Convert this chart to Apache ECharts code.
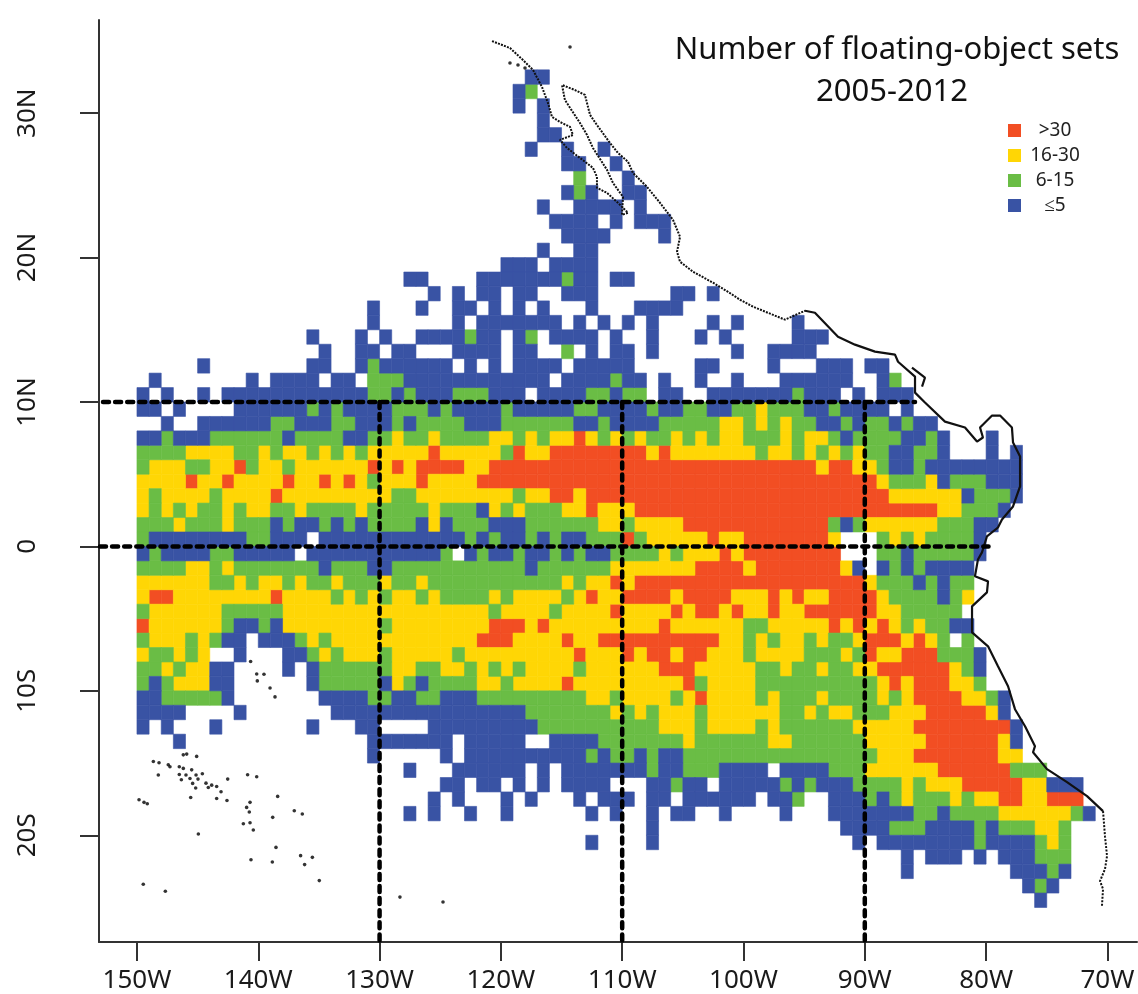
<!DOCTYPE html>
<html><head><meta charset="utf-8">
<style>html,body{margin:0;padding:0;background:#fff}#c{width:1138px;height:994px}</style>
<script src="https://cdn.jsdelivr.net/npm/echarts@6/dist/echarts.min.js"></script>
</head><body><div id="c"></div>
<script>
const titleLines = ["Number of floating-object sets", "2005-2012"];
const binNames = [">30", "16-30", "6-15", "≤5"];
const binCodes = ["r", "y", "g", "b"];
const binColors = ["#F24E23", "#FFD605", "#6ABD45", "#3953A4"];
const lonTicks = [-150,-140,-130,-120,-110,-100,-90,-80,-70];
const lonLabels = ["150W","140W","130W","120W","110W","100W","90W","80W","70W"];
const latTicks = [-20,-10,0,10,20,30];
const latLabels = ["20S","10S","0","10N","20N","30N"];
const firstLon = -150;
// one entry per 1-degree latitude band: north edge of the band, then runs of 1-degree cells
// (letter = class, numbers = cell index counted eastward from 150W)
const bandNorth = [33,32,31,30,29,28,27,26,25,24,23,22,21,20,19,18,17,16,15,14,13,12,11,10,9,8,7,6,5,4,3,2,1,0,-1,-2,-3,-4,-5,-6,-7,-8,-9,-10,-11,-12,-13,-14,-15,-16,-17,-18,-19,-20,-21,-22,-23,-24];
const bandRuns = [
"b32-33","b31 g32","b31 b33","b33","b33-34","b32 b35 b38","b35-36 b39","g36 b40","b35 g36 b37 b40-41","b33 b36-39 b41",
"b34-37 b39 b41-43","b35-38 b43","b33 b36-37","b30-32 b34-37","b22-23 b28-34 g35 b36-37 b39-40",
"b24 b26 b28-29 b31-32 b35-37 b44-45 b47",
"b19 b23 b26-27 b29 b31 b33 b37 b41-44",
"b19 b26 b28-34 b36 b38 b40 b42 b47 b49 b54",
"b14 b18 b20 b23-26 g27 b28-29 b31 g32 b34-37 b39 b42 b46 b48 b54-56",
"b15 b18-19 b21-22 b26-29 b31-32 g35 b37 b39-40 b42 b49 b52-55",
"b5 b14-15 b18 g19 b20-25 b27 b29 b31-34 b36-40 b46-47 b52 b56-58 b60-61",
"b1 b9 b11-14 b16-17 g19-21 b22-33 b35-38 g39 b40-41 b43 b46 b49 b53-58 b61 g62",
"b0 b2 b5 b7-18 g19-20 b21 g22 b23-25 g26-28 b29-31 b33-36 g37-38 b39 g40-41 b43-44 b47-53 g54 b55-57 b59 b61-63",
"b0-1 b3 b8-13 g14 b15 g16 b17-20 g21-23 b24 g25 b26-29 g30 b31-35 g36-37 b38-41 g42 b43-44 g45-46 b47-48 g49-50 y51 g52-54 b55-56 g57 b58-61 b63",
"b2 b5-10 g11-12 b13-15 g16-17 b18-20 g21 b22 g23-26 b27-29 g30-35 b36-37 g38 b39-42 g43-47 y48-49 g50 y51 g52 y53 g54-55 b56-57 g58 b59 g60-61 b62 g63 b64-65",
"b0-1 g2 b3-5 g6-11 b12 g13-16 b17-18 g19-20 y21 g22-23 y24 g25-28 y29-30 g31 y32 g33 y34-35 r36 y37 g38 y39 g40 y41 g42-43 y44 g45 y46 g47 y48-49 g50-52 y53 g54 y55-56 g57 b58 g59-62 b63-64 g65 b66 b70",
"g0-3 y4-7 g8-9 y10 g11 y12-13 g14 y15 g16 y17 g18 y19-23 r24 y25-29 g30 r31 y32-33 r34-41 y42 r43 y44-50 g51 y52-53 g54 y55 g56 y57 g58 y59 g60-61 b62-63 g64-65 b66 b70 b72",
"g0 y1-3 g4-5 y6-7 r8 g9 y10-11 g12 y13-18 r19 y20 r21 y22 r23-26 y27-28 r29-55 y56 r57-58 y59-60 g61 b62-63 g64 b65-72",
"y0-3 r4 y5-6 r7 y8-11 r12 y13-14 r15 y16 r17 y18 g19 y20-22 r23 y24-27 r28-60 y61 g62-64 y65 b66 g67-69 b70-72",
"y0 g1 y2-5 g6 y7-10 r11 y12-20 g21-22 y23-30 g31 y32-33 r34-35 y36 r37-61 y62-67 b68 g69-71 b72",
"y0 g1 y2 g3 y4 g5-6 y7 g8 y9-10 g11-12 y13 g14-17 y18 g19-23 y24 g25-27 b28 y29 g30 y31 g32-34 y35-36 r37 y38-40 r41-65 y66-67 g68-70 b71",
"g0-2 y3 g4-6 y7 g8-10 b11 g12 b13-14 g15 b16 g17 b18 g19-22 b23 y24 b25 g26-28 b29-31 g32-37 y38-39 g40 y41-44 r45-56 g57 b58 g59 y60-65 g66-68 b69-70",
"g0 b1-8 g9-10 b11-13 b15-26 g27 b28 g29 b30-31 g32 b33 g34 b35-36 g37-39 r40 g41 y42-46 r47 y48-49 r50-56 y57 g61 y62 g63 y64 g65-68 b69",
"b0 g1 b2-5 g6-7 b8-12 b14-24 g25 b27 g28 b29-30 g31 b32-33 g34 b35 g36 b37-38 g39-42 y43 g44 y45-47 r48 y49 r50-57 g61-62 b63 g64-68 b69",
"g0-3 y4-5 g6 y7 g8-14 b15 g16-18 b19-20 g21-31 b32 g33-38 y39-45 r46-49 y50 r51-57 y58 b59 b61 g62 b63 g64 b65-68",
"y0-5 g6-7 y8 g9 y10-11 g12 y13 g14-15 y16 g17-19 y20 g21-22 y23 g24-34 y35 g36 y37-38 r39 y40 r41-59 y60 g61-63 b64 g65 b66 g67-68",
"y0 r1-2 y3-10 r11 y12-15 g16 y17 g18 y19 g20 y21-22 g23 y24 g25-28 y29 g30 y31-34 g35 y36 r37 y38-39 r40-43 y44 r45-48 y49-51 r52 y53 r54 y55-56 r57-60 y61 g62-65 b66 g67 y68",
"g0 y1-6 g7-11 y12-28 g29 y30-33 g34 y35-38 r39 y40-43 r44 y45 r46-47 y48 r49 y50-51 r52 y53-54 r55-60 y61-62 g63-67",
"r0 y1-6 g7 b8-9 g10 b11 y12-19 g20 y21-28 r29-31 y32 r33 y34-42 r43 y44-49 g50-51 y52-56 r57 y58 r59 y60 r61 y62 g63 y64 g65-66 b67-68",
"g0 y1-3 g4 y5 g6 b7-8 b10-12 g13 y14 g15 y16-27 r28-30 y31-34 r35 y36-37 r38-47 y48-49 g50 y51 g52 y53-54 g55 y56 g57-58 y59 r60-62 y63 r64 y65 g66 g68",
"y0 g1-2 y3 g4 y5 b8 b12-13 g14 y15 g16 y17-19 g20 y21-25 g26 y27-35 r36 y37-39 r40 y41 r42-43 y44 r45-46 y47-49 g50 y51-54 g55-57 y58 g59 r60 y61-62 r63-65 g66-68 b69",
"g0-1 y2 g3 y4-5 b6-7 b12 b14 g15-20 y21-22 g23-24 y25-26 g27 y28 g29 y30 g31 y32-35 g36 y37-42 r43-45 y46-50 g51-52 y53 g54-55 y56 g57-58 y59-60 r61-66 y67 g68 b69",
"g0 b1 g2 y3-5 b6-7 b14 g15-19 b20 y21 g22 b23 g24-27 y28-29 g30 y31-34 r35 y36-44 r45 g46 y47-50 g51-60 y61 r62 y63 r64-66 y67-68 g69",
"b0-1 g2-6 b7 b15-18 g19-20 b21-22 g23-24 b25-27 g28-36 y37-38 g39 y40-43 g44 y45 r46 y47-50 g51 y52 g53-55 y56 g57-60 y61 g62 y63 r64-67 y68-69 g70 b71",
"b0-3 b8 b16-31 g32-38 y39 g40 y41 g42 y43-45 g46 y47-52 g53-54 y55 g56 y57-58 g59-61 y62-64 r65-69 y70 b71",
"b0 b2 b6 b14 b18-19 b24-32 g33-42 y43-45 g46 y47-50 g51 y52 g53-58 y59-63 r64-71 b72",
"b3 b19-25 b27-31 b34-37 g38-44 y45 g46-51 y52-53 g54-59 y60-64 r65-70 y71 b72",
"b19 b25 b27-36 g37 b38 g39-40 b41 g42 b43-44 g45-60 y61-63 r64-70 y71-72",
"b22 b26-31 b33 b35-41 g42 b43-44 g45-47 b48-51 b53-56 g57-59 y60-65 r66-71 g72-74",
"b25-26 b28-29 b31 b33 b35-38 b42-43 g44 b45-46 b48-52 g53 b54 g55 b56-58 g59-62 y63 g64 y65-67 r68-72 y73-74 b75-77",
"b24 b26 b30 b32 b36 b38-40 b42-43 b45-50 b52-53 g54 b57-59 g60 b61 g62 y63 g64-66 y67 g68 y69-70 r71-72 y73-74 r75-77",
"b22 b24 b27 b30 b37 b39 b42 b44-45 b48 b53 b57-63 g64-65 b66 g67-70 y71-76 g77 b78",
"b42 b58-61 g62-64 b65-68 g69 b70 g71-73 y74-75 g76",
"b37 b42 b59 b61-68 g69 b70-73 g74 y75 g76",
"b63 b65-67 b69 b71-73 g74-76",
"b63 b72-74 g75 b76",
"b73 g74 b75",
"b74"
];
// coastline, lon/lat
const coastNorth = [[-120.73,34.99],[-119.25,34.51],[-118.18,33.68],[-117.35,32.99],[-116.61,31.81],[-116.12,30.71],[-115.79,29.74],[-115.13,29.39],[-114.30,29.05],[-114.06,28.49],[-115.13,28.15],[-114.55,27.59],[-113.48,26.90],[-112.41,26.21],[-112.08,25.59],[-112.08,24.83],[-111.25,24.48],[-110.35,23.79],[-109.52,23.10],[-110.02,22.96],[-109.93,24.20],[-110.76,25.17],[-111.25,26.07],[-112.41,27.59],[-112.90,28.49],[-113.48,29.32],[-114.72,30.91],[-114.96,31.95],[-113.89,31.60],[-113.07,31.26],[-112.65,29.88],[-112.08,29.18],[-111.01,27.94],[-110.35,27.25],[-109.52,26.63],[-109.11,25.86],[-107.96,24.90],[-106.88,23.79],[-105.81,22.61],[-105.23,21.44],[-105.48,20.40],[-105.23,19.71],[-104.16,19.02],[-102.51,18.26],[-101.28,17.63],[-100.29,17.08],[-99.22,16.60],[-96.58,15.70],[-94.93,16.32]];
const coastCentral = [[-94.93,16.32],[-94.11,16.18],[-92.21,14.52],[-90.81,13.97],[-89.16,13.49],[-87.51,13.28],[-87.26,12.79],[-85.86,11.76],[-85.86,10.65],[-85.04,9.96],[-83.39,8.64],[-81.74,8.23],[-80.75,7.26],[-80.26,7.54],[-80.50,8.23],[-79.51,9.06],[-78.85,9.06],[-77.87,8.23],[-77.78,7.19],[-77.20,6.22],[-77.20,4.15],[-77.78,2.77],[-78.69,1.87],[-79.02,1.31],[-79.93,0.69],[-80.34,-0.41],[-80.67,-0.90],[-80.92,-2.07],[-79.84,-2.42],[-79.93,-3.18],[-81.16,-4.15],[-81.16,-5.95],[-79.84,-6.92],[-79.02,-8.30],[-78.19,-9.68],[-77.62,-11.27],[-76.79,-12.45],[-75.97,-13.83],[-76.13,-14.25],[-74.98,-15.42],[-73.33,-16.32],[-71.68,-17.29],[-70.36,-18.33]];
const coastSouth = [[-70.36,-18.33],[-70.20,-20.06],[-70.03,-21.44],[-70.20,-22.34],[-70.61,-23.17],[-70.36,-23.72],[-70.45,-24.90]];
const lagoon = [[-86.11,12.38],[-85.04,11.69],[-85.28,11.07]];
const islands = [[-140.63,-7.97],[-140.13,-8.83],[-139.53,-8.85],[-140.08,-9.31],[-139.03,-9.80],[-138.62,-10.42],[-146.18,-14.43],[-145.90,-14.38],[-145.08,-14.54],[-148.65,-14.89],[-148.18,-14.98],[-147.42,-15.12],[-147.28,-15.26],[-146.51,-15.26],[-146.18,-15.37],[-145.49,-15.47],[-144.61,-15.74],[-148.24,-15.83],[-146.51,-15.79],[-145.96,-15.83],[-145.13,-15.83],[-146.34,-16.16],[-145.63,-16.07],[-144.97,-16.11],[-145.41,-16.41],[-145.16,-16.73],[-144.31,-16.39],[-144.12,-16.69],[-143.84,-16.53],[-143.43,-16.62],[-143.07,-16.99],[-142.52,-16.11],[-140.88,-15.81],[-140.13,-15.95],[-145.57,-17.38],[-143.43,-17.45],[-142.58,-17.59],[-149.83,-17.54],[-149.42,-17.72],[-149.15,-17.82],[-140.68,-17.72],[-140.96,-18.07],[-140.74,-18.39],[-138.40,-17.31],[-137.03,-18.30],[-136.37,-18.53],[-138.81,-18.76],[-141.23,-19.20],[-140.68,-19.13],[-140.41,-19.64],[-144.94,-19.91],[-138.54,-20.84],[-140.60,-21.69],[-138.84,-21.85],[-136.51,-21.41],[-135.54,-21.53],[-136.18,-22.03],[-149.48,-23.39],[-147.66,-23.88],[-134.97,-23.14],[-128.32,-24.28],[-124.77,-24.62],[-119.25,33.47],[-118.59,33.33],[-118.01,33.13],[-114.30,34.58]];
// dashed reference lines, lon/lat
const dashLines = [
  [[-152.8,10],[-85.86,10]],
  [[-153.05,0],[-79.8,0]],
  [[-130,10],[-130,-27.39]],
  [[-110,10],[-110,-27.39]],
  [[-90,10],[-90,-27.39]]
];

const cells = binCodes.map(() => []);
bandRuns.forEach((runs, i) => {
  runs.split(" ").forEach(run => {
    const bin = binCodes.indexOf(run[0]);
    const [a, b] = run.slice(1).split("-").map(Number);
    for (let k = a; k <= (b === undefined ? a : b); k++) cells[bin].push([firstLon + k, bandNorth[i]]);
  });
});

function renderCell(params, api) {
  const lon = api.value(0), lat = api.value(1);
  const p0 = api.coord([lon, lat]), p1 = api.coord([lon + 1, lat - 1]);
  const c = api.visual("color");
  return { type: "rect", shape: { x: p0[0], y: p0[1], width: p1[0] - p0[0], height: p1[1] - p0[1] },
           style: { fill: c, stroke: c, lineWidth: 0.6 } };
}
const lineBase = { type: "line", showSymbol: false, silent: true, animation: false };
const series = binNames.map((n, i) => ({
  name: n, type: "custom", renderItem: renderCell, data: cells[i], encode: { x: 0, y: 1 },
  itemStyle: { color: binColors[i] }, silent: true, z: 2, clip: false
}));
[[coastNorth,[2,1.2],2],[coastCentral,"solid",2.2],[coastSouth,[2,1.5],2],[lagoon,"solid",2.2]].forEach(([d,t,w]) =>
  series.push({ ...lineBase, data: d, z: 4, lineStyle: { color: "#111", width: w, type: t } }));
series.push({ type: "scatter", data: islands, symbolSize: 3.6, itemStyle: { color: "#000" }, silent: true, z: 4 });
dashLines.forEach(d => series.push({ ...lineBase, data: d, z: 5,
  lineStyle: { color: "#000", width: 4.5, type: [6, 6.1], cap: "round" } }));

const labelFont = { fontFamily: "Noto Sans", fontSize: 26, color: "#1a1a1a" };
const axisLine = { show: true, onZero: false, lineStyle: { color: "#333", width: 2 } };
const tick = v => ({ show: true, length: 19, lineStyle: { color: "#333", width: 2 }, customValues: v });
const titleStyle = { fontFamily: "Noto Sans", fontSize: 31, fontWeight: "normal", color: "#111", lineHeight: 32 };
const chart = echarts.init(document.getElementById("c"), null, { renderer: "canvas" });
chart.setOption({
  animation: false,
  backgroundColor: "#fff",
  title: [
    { text: titleLines[0], left: 892, top: 29, textAlign: "center", textStyle: titleStyle },
    { text: titleLines[1], left: 887, top: 71, textAlign: "center", textStyle: titleStyle }
  ],
  legend: { data: binNames, orient: "vertical", left: 1003, top: 116, itemWidth: 13, itemHeight: 13, itemGap: 6, icon: "rect",
    selectedMode: false, formatter: n => "{c|" + n + "}",
    textStyle: { rich: { c: { fontFamily: "Noto Sans", fontSize: 19, color: "#222", width: 58, align: "center", lineHeight: 18 } } } },
  grid: { left: 99, top: 20, width: 1038, height: 923, containLabel: false },
  xAxis: { type: "value", min: -153.13, max: -67.56, splitLine: { show: false },
    axisLine, axisTick: tick(lonTicks),
    axisLabel: { ...labelFont, margin: 26, customValues: lonTicks, hideOverlap: false,
      formatter: v => lonLabels[lonTicks.indexOf(v)] } },
  yAxis: { type: "value", min: -27.39, max: 36.45, splitLine: { show: false },
    axisLine, axisTick: tick(latTicks),
    axisLabel: { ...labelFont, margin: 58, rotate: 90, customValues: latTicks, hideOverlap: false,
      formatter: v => latLabels[latTicks.indexOf(v)] } },
  series
});
</script></body></html>
